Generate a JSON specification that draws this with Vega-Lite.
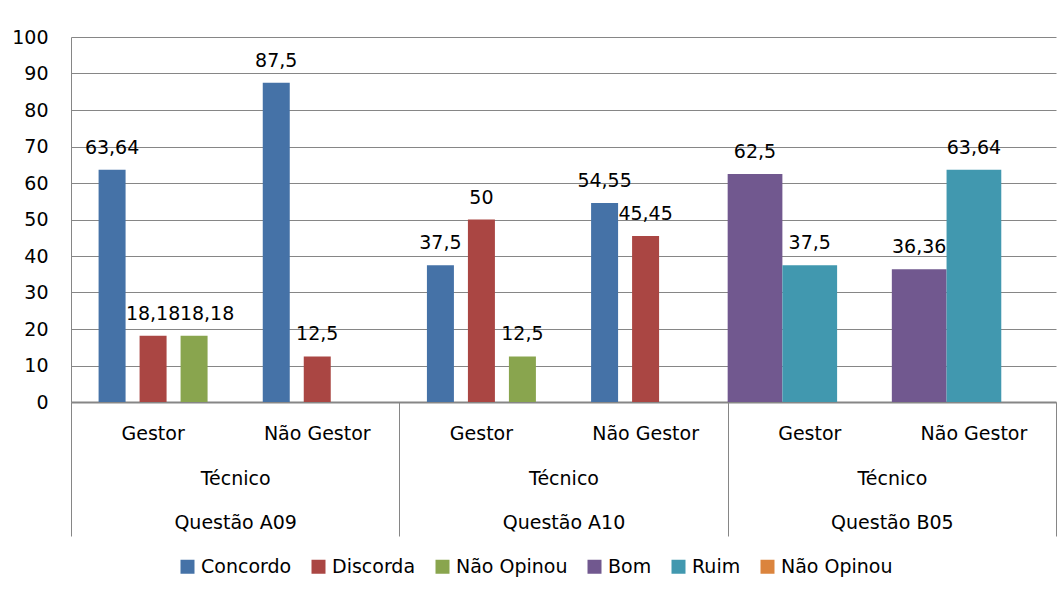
{
  "$schema": "https://vega.github.io/schema/vega-lite/v6.json",
  "width": 985,
  "height": 365,
  "autosize": {"type": "none"},
  "padding": {"left": 71, "top": 37, "right": 5, "bottom": 197},
  "background": "white",
  "config": {
    "font": "DejaVu Sans",
    "view": {"stroke": null},
    "locale": {
      "number": {"decimal": ",", "thousands": ".", "grouping": [3], "currency": ["R$ ", ""]}
    },
    "axis": {
      "labelFont": "DejaVu Sans",
      "labelFontSize": 19,
      "labelColor": "#000000",
      "domainColor": "#868686",
      "gridColor": "#868686",
      "tickColor": "#868686",
      "title": null
    },
    "axisX": {"grid": false, "labelAngle": 0},
    "axisY": {
      "domain": true,
      "ticks": false,
      "tickSize": 0,
      "labelPadding": 23,
      "grid": true,
      "tickCount": 10
    }
  },
  "datasets": {
    "respostas": [
      {"questao": "Questão A09", "coluna": "Questão A09 / Gestor", "serie": "Concordo", "valor": 63.64},
      {"questao": "Questão A09", "coluna": "Questão A09 / Gestor", "serie": "Discorda", "valor": 18.18},
      {"questao": "Questão A09", "coluna": "Questão A09 / Gestor", "serie": "Não Opinou", "valor": 18.18},
      {"questao": "Questão A09", "coluna": "Questão A09 / Não Gestor", "serie": "Concordo", "valor": 87.5},
      {"questao": "Questão A09", "coluna": "Questão A09 / Não Gestor", "serie": "Discorda", "valor": 12.5},
      {"questao": "Questão A10", "coluna": "Questão A10 / Gestor", "serie": "Concordo", "valor": 37.5},
      {"questao": "Questão A10", "coluna": "Questão A10 / Gestor", "serie": "Discorda", "valor": 50},
      {"questao": "Questão A10", "coluna": "Questão A10 / Gestor", "serie": "Não Opinou", "valor": 12.5},
      {"questao": "Questão A10", "coluna": "Questão A10 / Não Gestor", "serie": "Concordo", "valor": 54.55},
      {"questao": "Questão A10", "coluna": "Questão A10 / Não Gestor", "serie": "Discorda", "valor": 45.45},
      {"questao": "Questão B05", "coluna": "Questão B05 / Gestor", "serie": "Bom", "valor": 62.5},
      {"questao": "Questão B05", "coluna": "Questão B05 / Gestor", "serie": "Ruim", "valor": 37.5},
      {"questao": "Questão B05", "coluna": "Questão B05 / Não Gestor", "serie": "Bom", "valor": 36.36},
      {"questao": "Questão B05", "coluna": "Questão B05 / Não Gestor", "serie": "Ruim", "valor": 63.64}
    ]
  },
  "data": {"name": "respostas"},
  "layer": [
    {
      "mark": {"type": "bar", "opacity": 0},
      "encoding": {
        "x": {
          "field": "questao",
          "type": "nominal",
          "scale": {"type": "band", "paddingInner": 0, "paddingOuter": 0},
          "axis": {
            "orient": "bottom",
            "domain": false,
            "ticks": true,
            "tickBand": "extent",
            "tickSize": 134,
            "tickWidth": 1,
            "labelExpr": "datum.label ? ['Técnico', datum.label] : ''",
            "labelLineHeight": 44,
            "labelPadding": -67
          }
        },
        "y": {
          "datum": 0,
          "type": "quantitative",
          "scale": {"domain": [0, 100], "nice": false}
        }
      }
    },
    {
      "layer": [
        {
          "transform": [{"filter": "datum.questao !== 'Questão B05'"}],
          "encoding": {
            "x": {
              "field": "coluna",
              "type": "nominal",
              "scale": {
                "domain": [
                  "Questão A09 / Gestor", "Questão A09 / Não Gestor",
                  "Questão A10 / Gestor", "Questão A10 / Não Gestor",
                  "Questão B05 / Gestor", "Questão B05 / Não Gestor"
                ],
                "paddingInner": 0,
                "paddingOuter": 0
              },
              "axis": {
                "orient": "bottom",
                "domain": true,
                "domainWidth": 2,
                "ticks": false,
                "labelPadding": 22,
                "labelExpr": "split(datum.label, ' / ')[1]"
              }
            },
            "xOffset": {
              "field": "serie",
              "scale": {
                "domain": ["Concordo", "Discorda", "Não Opinou"],
                "paddingInner": 0.3415,
                "paddingOuter": 0.673
              }
            },
            "y": {
              "field": "valor",
              "type": "quantitative",
              "scale": {"domain": [0, 100], "nice": false}
            }
          },
          "layer": [
            {
              "mark": {"type": "bar"},
              "encoding": {
                "color": {
                  "field": "serie",
                  "type": "nominal",
                  "scale": {
                    "domain": ["Concordo", "Discorda", "Não Opinou", "Bom", "Ruim", "Não Opinou (B05)"],
                    "range": ["#4572A7", "#AA4643", "#89A54E", "#71588F", "#4198AF", "#DB843D"]
                  },
                  "legend": {
                    "orient": "none",
                    "legendX": 107,
                    "legendY": 520,
                    "direction": "horizontal",
                    "columns": 6,
                    "title": null,
                    "symbolType": "square",
                    "symbolSize": 196,
                    "symbolStrokeWidth": 0,
                    "labelFont": "DejaVu Sans",
                    "labelFontSize": 19,
                    "labelColor": "#000000",
                    "labelOffset": 4,
                    "columnPadding": 17,
                    "labelExpr": "replace(datum.label, ' (B05)', '')"
                  }
                }
              }
            },
            {
              "mark": {
                "type": "text",
                "baseline": "alphabetic",
                "dy": -16,
                "dx": {"expr": "datum.serie === 'Não Opinou' && datum.questao === 'Questão A09' ? 13 : 0"},
                "fontSize": 19,
                "color": "#000000"
              },
              "encoding": {
                "text": {"field": "valor", "type": "quantitative", "format": ".2~f"}
              }
            }
          ]
        },
        {
          "transform": [{"filter": "datum.questao === 'Questão B05'"}],
          "encoding": {
            "x": {"field": "coluna", "type": "nominal"},
            "xOffset": {
              "field": "serie",
              "scale": {
                "domain": ["Bom", "Ruim", "Não Opinou (B05)"],
                "paddingInner": 0,
                "paddingOuter": 0
              }
            },
            "y": {"field": "valor", "type": "quantitative"}
          },
          "layer": [
            {
              "mark": {"type": "bar"},
              "encoding": {
                "color": {"field": "serie", "type": "nominal"}
              }
            },
            {
              "mark": {"type": "text", "baseline": "alphabetic", "dy": -16, "fontSize": 19, "color": "#000000"},
              "encoding": {
                "text": {"field": "valor", "type": "quantitative", "format": ".2~f"}
              }
            }
          ]
        }
      ],
      "resolve": {"scale": {"xOffset": "independent"}}
    }
  ],
  "resolve": {"scale": {"x": "independent"}}
}
